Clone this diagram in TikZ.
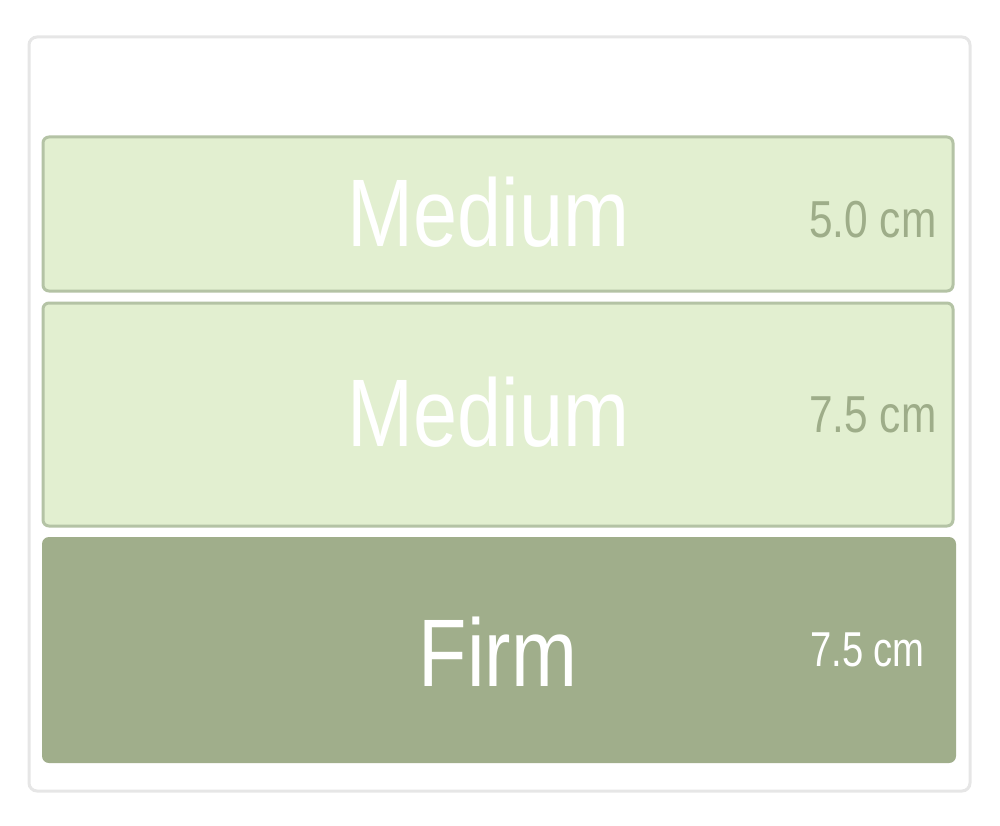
\documentclass[tikz,border=0pt]{standalone}
\usepackage{fontspec}
\setmainfont{Liberation Sans}
\definecolor{lightfill}{HTML}{E2EFD0}
\definecolor{lightedge}{HTML}{B4C3A5}
\definecolor{darkfill}{HTML}{A0AE8B}
\definecolor{sage}{HTML}{9EAD89}
\definecolor{frame}{HTML}{E6E6E6}
\tikzset{
  layerbox/.style={fill=lightfill, draw=lightedge, line width=3pt, rounded corners=6pt},
  firmbox/.style={fill=darkfill, rounded corners=7pt},
  bigtext/.style={text=white, inner sep=0pt, font=\fontsize{96}{96}\selectfont, xscale=0.825},
  sizetext/.style={text=sage, inner sep=0pt, font=\fontsize{52}{52}\selectfont, xscale=0.815},
  firmsize/.style={text=white, inner sep=0pt, font=\fontsize{49}{49}\selectfont, xscale=0.78},
}
\begin{document}
\begin{tikzpicture}[x=1pt,y=-1pt]
\useasboundingbox (0,0) rectangle (1000,826);
\draw[frame, line width=3pt, rounded corners=8pt, fill=white] (29,37) rectangle (970,791);
\draw[layerbox] (43,137) rectangle (953,291);
\draw[layerbox] (43,303) rectangle (953,526);
\fill[firmbox] (42,537) rectangle (956,763);
\node[bigtext, anchor=base] (m1) at (488.5,246) {Medium};
\node[bigtext, anchor=base] (m2) at (488.5,446) {Medium};
\node[bigtext, anchor=base] (f) at (498,686) {Firm};
\node[sizetext, anchor=base east] (s1) at (936.5,237) {5.0 cm};
\node[sizetext, anchor=base east] (s2) at (936.5,432) {7.5 cm};
\node[firmsize, anchor=base east] (s3) at (925,666) {7.5 cm};
\end{tikzpicture}
\end{document}
